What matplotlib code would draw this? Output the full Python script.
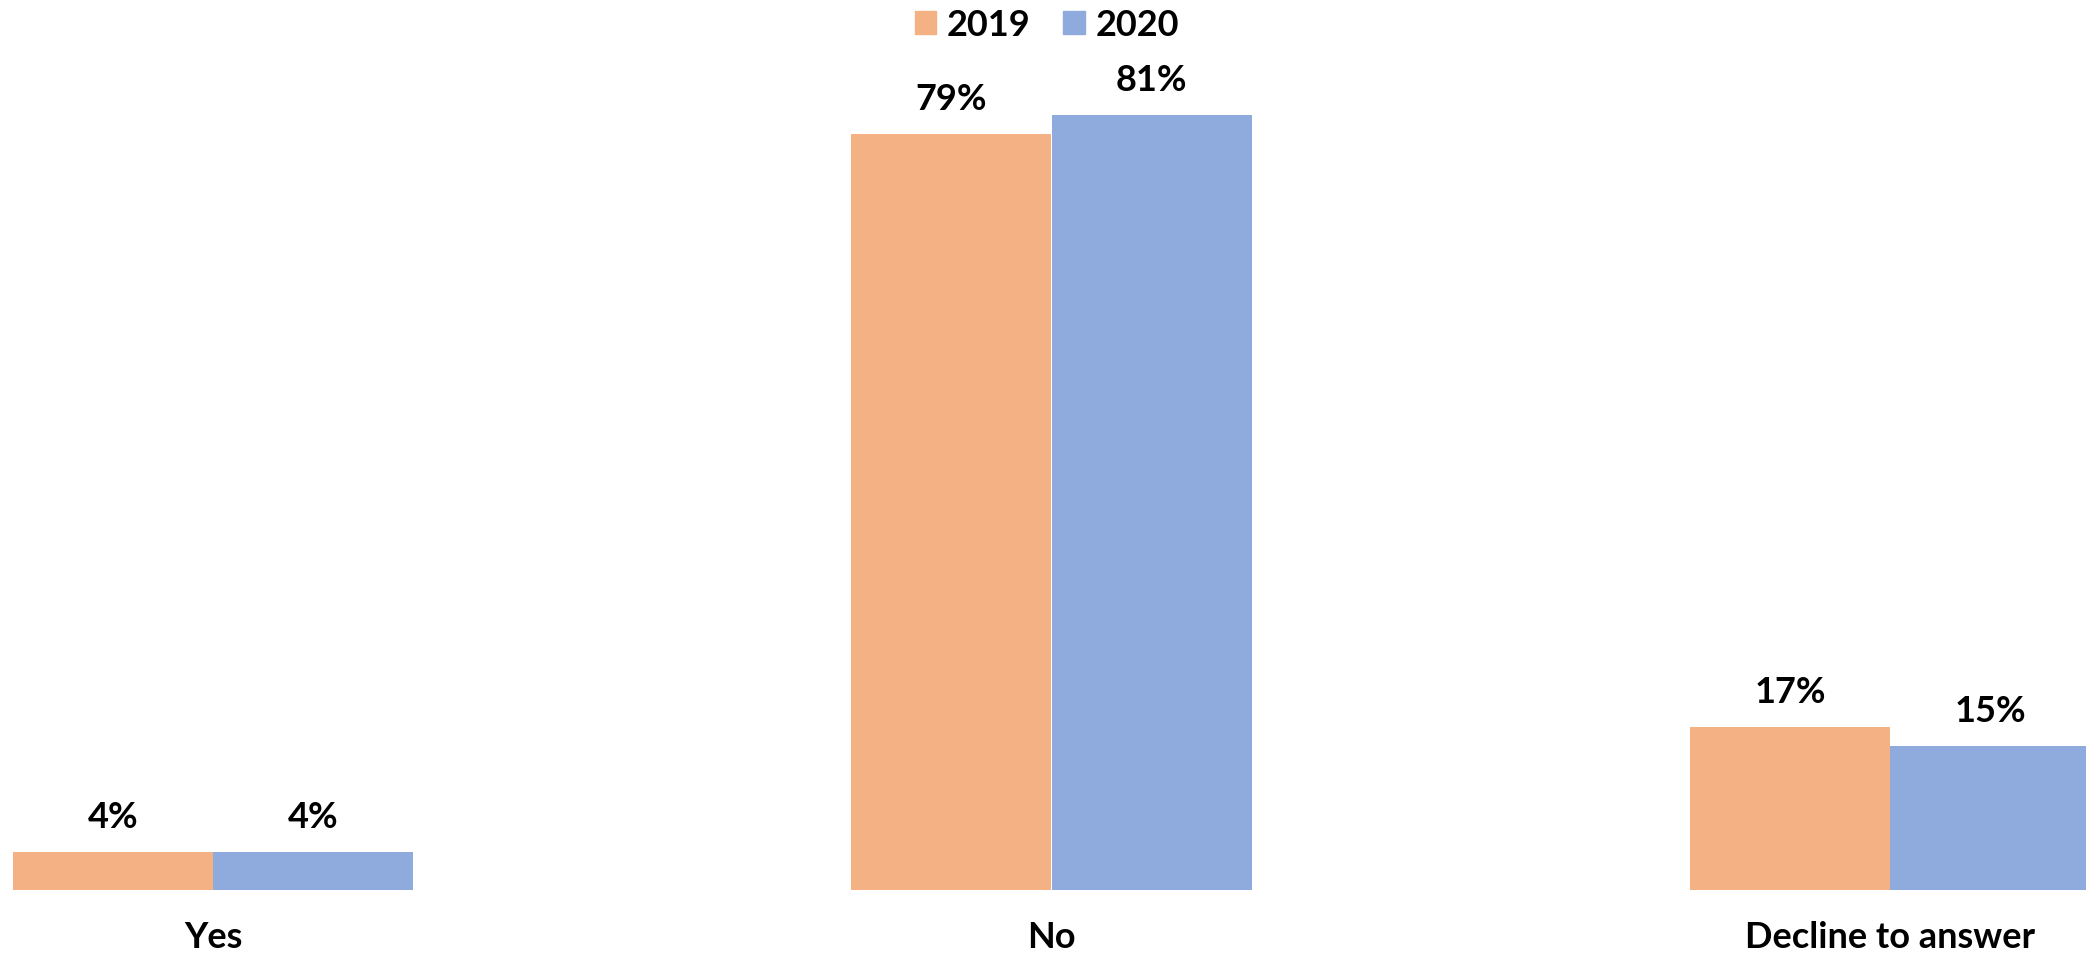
import numpy as np
import matplotlib
matplotlib.use('Agg')
from matplotlib import pyplot as plt
from matplotlib.patches import Patch

categories = ['Yes', 'No', 'Decline to answer']
years = ['2019', '2020']
values_2019 = [4, 79, 17]
values_2020 = [4, 81, 15]

ORANGE = '#F4B183'
BLUE = '#8FAADC'
FS = 26

plt.rcParams['font.family'] = ['Lato', 'DejaVu Sans']
plt.rcParams['font.weight'] = 'bold'

W, H = 2086, 957
fig = plt.figure(figsize=(W / 100, H / 100), dpi=100)

# axes: baseline at y=890 px from top, full width
ax = fig.add_axes([0, (H - 890) / H, 1, 890 / H])

x = np.arange(len(categories))
bw = 200 / 838.5  # bar width in category units

b1 = ax.bar(x - bw / 2, values_2019, bw, color=ORANGE, label=years[0], linewidth=0)
b2 = ax.bar(x + bw / 2, values_2020, bw, color=BLUE, label=years[1], linewidth=0)

for bars in (b1, b2):
    for rect in bars:
        h = rect.get_height()
        ax.annotate('{}%'.format(int(h)),
                    (rect.get_x() + rect.get_width() / 2, h),
                    xytext=(0, 13), textcoords='offset points',
                    ha='center', va='bottom', fontsize=FS,
                    fontweight='bold', annotation_clip=False)

ax.set_xlim(-213 / 838.5, 2 + (W - 1890) / 838.5)
ax.set_ylim(0, 890 / 9.57)
ax.set_xticks(x)
ax.set_xticklabels(categories, fontsize=FS, fontweight='bold')
ax.tick_params(axis='x', length=0, pad=22)
ax.set_yticks([])
for s in ax.spines.values():
    s.set_visible(False)
ax.patch.set_alpha(0)

handles = [Patch(color=ORANGE, label=years[0]), Patch(color=BLUE, label=years[1])]
fig.legend(handles=handles, loc='center', bbox_to_anchor=(1047 / W, 1 - 25 / H),
           ncol=2, frameon=False, handlelength=0.6,
           handleheight=0.6, handletextpad=0.3, columnspacing=0.9,
           prop={'weight': 'bold', 'size': FS})

fig.savefig('out.png', dpi=100)
